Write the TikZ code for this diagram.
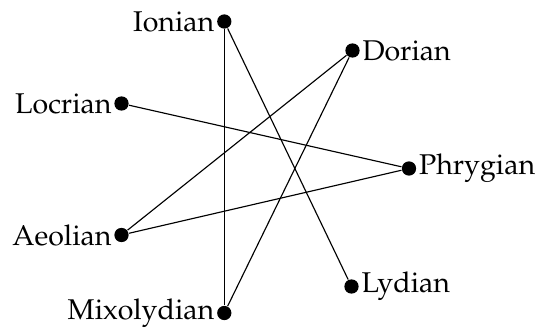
\documentclass[tikz,border=0pt]{standalone}
\usepackage[T1]{fontenc}
\usepackage{mathpazo}
\usepackage{tikz}

\begin{document}
\begin{tikzpicture}[x=0.35pt,y=-0.35pt,
    mode/.style={circle,fill,inner sep=0pt,minimum size=5pt},
    every label/.style={inner sep=0.6pt},label distance=0pt]
                \useasboundingbox (0,0) rectangle (539,330);

                \node[mode,label=left:Ionian] (ionian) at (224.3,21.5) {};
                \node[mode,label=right:Dorian] (dorian) at (352.5,50.5) {};
                \node[mode,label=right:Phrygian] (phrygian) at (409,168.5) {};
                \node[mode,label=right:Lydian] (lydian) at (351.5,286.5) {};
                \node[mode,label=left:Mixolydian] (mixolydian) at (224.3,313) {};
                \node[mode,label=left:Aeolian] (aeolian) at (121.5,235) {};
                \node[mode,label=left:Locrian] (locrian) at (121.5,103.5) {};

                \draw (ionian) -- (lydian);
                \draw (ionian) -- (mixolydian);
                \draw (dorian) -- (aeolian);
                \draw (dorian) -- (mixolydian);
                \draw (locrian) -- (phrygian);
                \draw (aeolian) -- (phrygian);
            \end{tikzpicture}
\end{document}
